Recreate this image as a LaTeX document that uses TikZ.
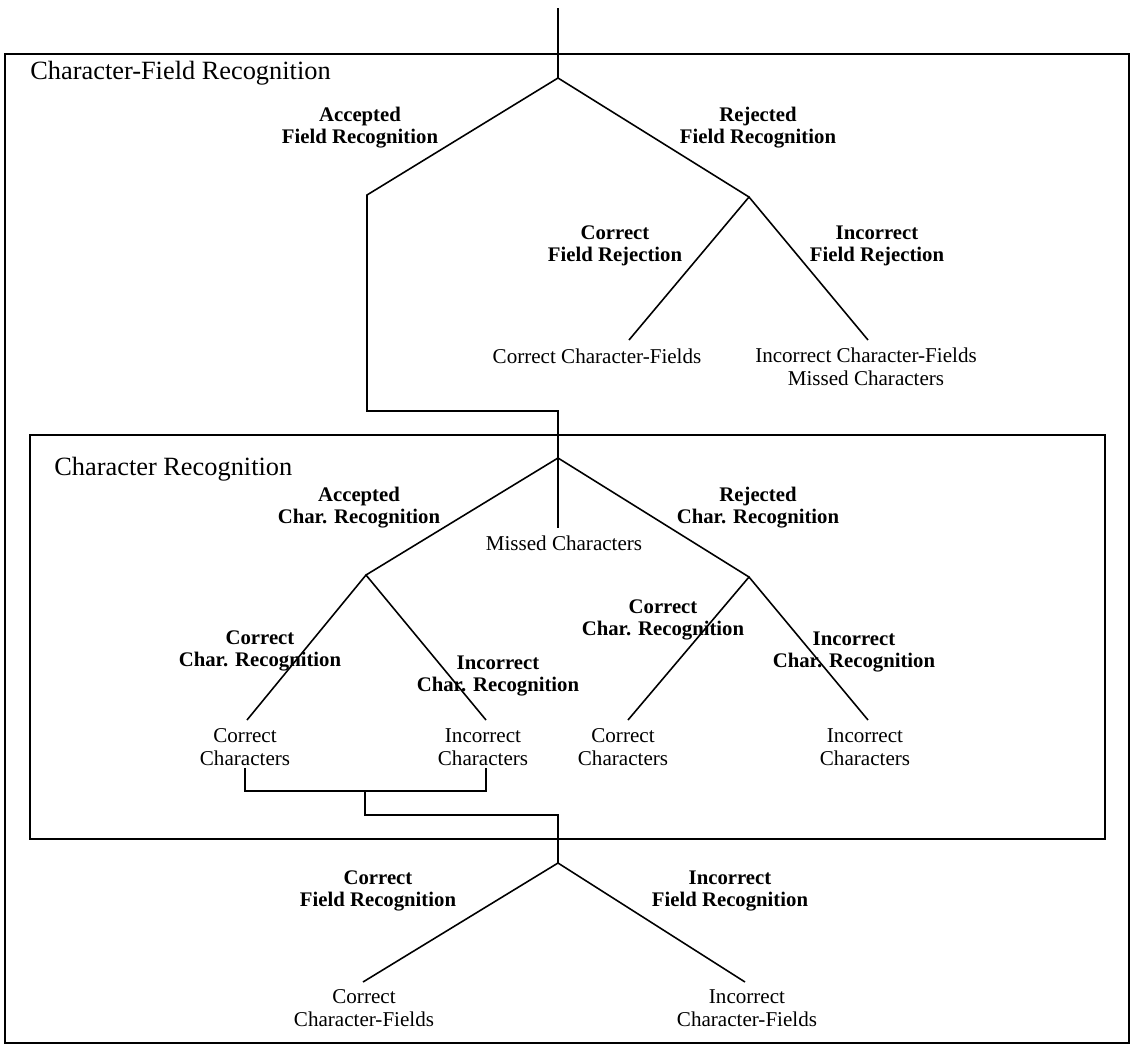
\documentclass[tikz,border=0pt]{standalone}
\usepackage{fontspec}
\setmainfont{Liberation Serif}
\usepackage{tikz}

\tikzset{
  branch/.style={line width=0.9pt},
  frame/.style={line width=0.8pt},
  boxtitle/.style={anchor=west, inner sep=0pt, font=\fontsize{15}{16}\selectfont},
  edgelabel/.style={align=center, inner sep=0pt, font=\bfseries\fontsize{11.8}{12.5}\selectfont},
  leaflabel/.style={align=center, inner sep=0pt, font=\fontsize{12}{13}\selectfont}
}

\begin{document}
\begin{tikzpicture}[x=0.2mm,y=-0.2mm]
\useasboundingbox (0,0) rectangle (1131,1049);

% boxes
\draw[frame] (5,54) rectangle (1129,1043);
\draw[frame] (30,435) rectangle (1105,839);
\node[boxtitle] (fieldtitle) at (30,73) {Character-Field Recognition};
\node[boxtitle] (chartitle) at (54,469) {Character Recognition};

% junctions
\coordinate (in) at (558,8);
\coordinate (f0) at (558,78);
\coordinate (acc) at (367,195);
\coordinate (acc2) at (367,411);
\coordinate (mid) at (558,411);
\coordinate (rej) at (749,197);
\coordinate (rejl) at (629,340);
\coordinate (rejr) at (868,340);
\coordinate (c0) at (558,458);
\coordinate (miss) at (558,528);
\coordinate (cacc) at (366,575);
\coordinate (crej) at (749,577);
\coordinate (e1) at (247,720);
\coordinate (e2) at (486,720);
\coordinate (e3) at (628,720);
\coordinate (e4) at (868,720);
\coordinate (k1) at (245,768);
\coordinate (k1b) at (245,791);
\coordinate (k2) at (486,768);
\coordinate (k2b) at (486,791);
\coordinate (s1) at (365,791);
\coordinate (s2) at (365,815);
\coordinate (s3) at (558,815);
\coordinate (b0) at (558,863);
\coordinate (bl) at (363,982);
\coordinate (br) at (745,982);

% field level
\draw[branch] (in) -- (f0);
\draw[branch] (f0) -- (acc) -- (acc2) -- (mid) -- (c0);
\draw[branch] (f0) -- (rej);
\draw[branch] (rejl) -- (rej) -- (rejr);

% character level
\draw[branch] (cacc) -- (c0) -- (crej);
\draw[branch] (c0) -- (miss);
\draw[branch] (e1) -- (cacc) -- (e2);
\draw[branch] (e3) -- (crej) -- (e4);
\draw[branch] (k1) -- (k1b) -- (k2b) -- (k2);
\draw[branch] (s1) -- (s2) -- (s3) -- (b0);

% result level
\draw[branch] (bl) -- (b0) -- (br);

% labels
\node[edgelabel] (accfield) at (360,128) {Accepted\\Field Recognition};
\node[edgelabel] (rejfield) at (758,128) {Rejected\\Field Recognition};
\node[edgelabel] (corrrej) at (615,246) {Correct\\Field Rejection};
\node[edgelabel] (increj) at (877,246) {Incorrect\\Field Rejection};
\node[leaflabel] (corrfields) at (597,356) {Correct Character-Fields};
\node[leaflabel] (incfields) at (866,367) {Incorrect Character-Fields\\Missed Characters};

\node[leaflabel] (missed) at (564,543) {Missed Characters};
\node[edgelabel] (accchar) at (359,508) {Accepted\\Char. Recognition};
\node[edgelabel] (rejchar) at (758,508) {Rejected\\Char. Recognition};
\node[edgelabel] (corrcharl) at (260,651) {Correct\\Char. Recognition};
\node[edgelabel] (inccharl) at (498,676) {Incorrect\\Char. Recognition};
\node[edgelabel] (corrcharr) at (663,620) {Correct\\Char. Recognition};
\node[edgelabel] (inccharr) at (854,652) {Incorrect\\Char. Recognition};
\foreach \x/\w in {245/Correct,483/Incorrect,623/Correct,865/Incorrect}
    \node[leaflabel] (chars\x) at (\x,747) {\w\\Characters};

\node[edgelabel] (corrfieldrec) at (378,891) {Correct\\Field Recognition};
\node[edgelabel] (incfieldrec) at (730,891) {Incorrect\\Field Recognition};
\node[leaflabel] (corrout) at (364,1008) {Correct\\Character-Fields};
\node[leaflabel] (incout) at (747,1008) {Incorrect\\Character-Fields};
\end{tikzpicture}
\end{document}
